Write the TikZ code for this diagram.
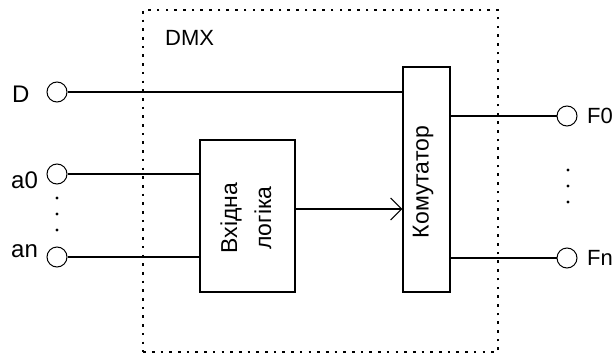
\documentclass[tikz,border=0pt]{standalone}
\usepackage{fontspec}
\setmainfont{Liberation Sans}
\usetikzlibrary{arrows.meta}
\begin{document}
\begin{tikzpicture}[x=1pt,y=-1pt,
  wire/.style={line width=1.1pt},
  port/.style={circle,draw,line width=1pt,minimum size=20pt,inner sep=0pt},
  block/.style={rectangle,draw,line width=1.3pt,inner sep=0pt},
  dotbox/.style={rectangle,draw,line width=1.6pt,dash pattern=on 2.6pt off 6.1pt,inner sep=0pt},
  lbl/.style={inner sep=0pt,anchor=base west,font=\fontsize{22}{26}\selectfont},
  biglbl/.style={lbl,font=\fontsize{24}{28}\selectfont},
  rtxt/.style={inner sep=0pt,rotate=90,align=center,font=\fontsize{23}{34}\selectfont},
  dotmark/.style={circle,fill,inner sep=0pt,minimum size=3.4pt}]
\useasboundingbox (0,0) rectangle (613,356);
% dotted frame
\node[dotbox,minimum width=354.5pt,minimum height=342.5pt] (dmx) at (320.5,181) {};
\node[lbl] (tdmx) at (165,45) {DMX};
% blocks
\node[block,minimum width=95pt,minimum height=152pt] (logic) at (247.5,216) {};
\node[rtxt] (tlogic) at (246,218) {Вхідна\\логіка};
\node[block,minimum width=47pt,minimum height=225pt] (komm) at (426.5,179.5) {};
\node[rtxt] (tkomm) at (423,182) {Комутатор};
% ports
\node[port] (cD) at (57,92) {};
\node[port] (ca0) at (57,174) {};
\node[port] (can) at (57,257) {};
\node[port] (cF0) at (567,116) {};
\node[port] (cFn) at (567,258) {};
% labels
\node[biglbl] (tD) at (12,102) {D};
\node[biglbl] (ta0) at (11,188) {a0};
\node[biglbl] (tan) at (11,257) {an};
\node[lbl] (tF0) at (587,123) {F0};
\node[lbl] (tFn) at (587,265) {Fn};
% ellipsis dots
\node[dotmark] (l1) at (57,198) {};
\node[dotmark] (l2) at (57,214) {};
\node[dotmark] (l3) at (57,230) {};
\node[dotmark] (r1) at (568,170) {};
\node[dotmark] (r2) at (568,186) {};
\node[dotmark] (r3) at (568,202) {};
% wires
\draw[wire] (cD) -- (cD -| komm.west);
\draw[wire] (ca0) -- (ca0 -| logic.west);
\draw[wire] (can) -- (can -| logic.west);
\coordinate (lo) at (295,209);
\draw[wire,-{Straight Barb[length=11pt,width=22pt,line width=1.1pt]}] (lo) -- (lo -| komm.west);
\draw[wire] (komm.east |- cF0) -- (cF0);
\draw[wire] (komm.east |- cFn) -- (cFn);
\end{tikzpicture}
\end{document}
